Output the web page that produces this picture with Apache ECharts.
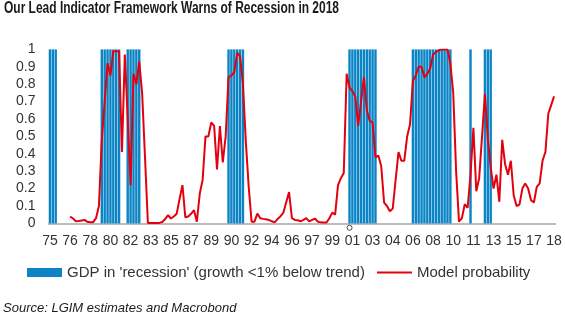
<!DOCTYPE html>
<html>
<head>
<meta charset="utf-8">
<script src="https://cdn.jsdelivr.net/npm/echarts@6/dist/echarts.min.js"></script>
<style>
  html, body { margin: 0; padding: 0; background: #fff; }
  #chart { width: 565px; height: 321px; }
</style>
</head>
<body>
<div id="chart"></div>
<script>
// Quarterly axis, 1975Q1 .. 2018Q4
const firstYear = 1975;
const lastYear = 2018;
const labelEvery = 7; // a year label every 7 quarters

// Quarters in which GDP growth ran more than 1% below trend
const recessionPeriods = [
  ['1975Q1', '1975Q3'],
  ['1979Q3', '1981Q1'],
  ['1981Q4', '1982Q4'],
  ['1990Q3', '1991Q4'],
  ['2001Q1', '2003Q2'],
  ['2006Q3', '2009Q4'],
  ['2011Q3', '2011Q3'],
  ['2012Q4', '2013Q2']
];

// Model probability of recession, quarterly from 1976Q4
const probabilityStart = '1976Q4';
const probability = [
  0.04, 0.028, 0.013, 0.014, 0.017, 0.02, 0.009, 0.006, 0.007, 0.03,
  0.1, 0.48, 0.7, 0.92, 0.85, 0.99, 0.99, 0.99, 0.41, 0.97,
  0.6, 0.22, 0.86, 0.8, 0.93, 0.75, 0.38, 0.003, 0.002, 0.002,
  0.002, 0.003, 0.008, 0.025, 0.047, 0.028, 0.04, 0.056, 0.14, 0.22,
  0.035, 0.04, 0.055, 0.076, 0.01, 0.17, 0.25, 0.5, 0.5, 0.58,
  0.56, 0.31, 0.56, 0.35, 0.5, 0.84, 0.85, 0.87, 0.98, 0.96,
  0.8, 0.47, 0.21, 0.01, 0.01, 0.056, 0.03, 0.026, 0.024, 0.02,
  0.012, 0.006, 0.025, 0.04, 0.06, 0.12, 0.18, 0.03, 0.02, 0.018,
  0.012, 0.02, 0.03, 0.012, 0.02, 0.028, 0.01, 0.006, 0.005, 0.005,
  0.03, 0.062, 0.05, 0.22, 0.26, 0.29, 0.86, 0.78, 0.76, 0.73,
  0.56, 0.7, 0.84, 0.65, 0.59, 0.58, 0.38, 0.39, 0.33, 0.12,
  0.1, 0.07, 0.085, 0.25, 0.41, 0.36, 0.36, 0.5, 0.57, 0.82,
  0.85, 0.9, 0.9, 0.84, 0.86, 0.89, 0.97, 0.985, 0.995, 1.0,
  1.0, 1.0, 0.92, 0.75, 0.3, 0.01, 0.03, 0.11, 0.09, 0.28,
  0.55, 0.185, 0.26, 0.5, 0.745, 0.49, 0.325, 0.2, 0.28, 0.124,
  0.48, 0.34, 0.28, 0.36, 0.16, 0.1, 0.108, 0.2, 0.23, 0.2,
  0.133, 0.12, 0.21, 0.23, 0.36, 0.41, 0.63, 0.68, 0.73
];

// Small circle drawn just under the axis at 2001Q1
const axisMarker = ['2001Q1', -0.025];

const titleText = 'Our Lead Indicator Framework Warns of Recession in 2018';
const sourceText = 'Source: LGIM estimates and Macrobond';
const barName = "GDP in 'recession' (growth <1% below trend)";
const lineName = 'Model probability';

const quarters = [];
for (let y = firstYear; y <= lastYear; y++) {
  for (let q = 1; q <= 4; q++) quarters.push(y + 'Q' + q);
}

const recessionBars = quarters.map(() => null);
recessionPeriods.forEach(([from, to]) => {
  for (let i = quarters.indexOf(from); i <= quarters.indexOf(to); i++) recessionBars[i] = 1;
});

const probabilitySeries = quarters.map(() => null);
const p0 = quarters.indexOf(probabilityStart);
probability.forEach((v, k) => { probabilitySeries[p0 + k] = v; });

const baseFont = "'Liberation Sans', Arial, sans-serif";
const titleFont = "bold 16px 'Liberation Sans', Arial, sans-serif";

// The heading is set in a condensed face: squeeze a regular bold face to the same width
const measureCtx = document.createElement('canvas').getContext('2d');
measureCtx.font = titleFont;
const titleWidth = 335;
const titleScale = titleWidth / measureCtx.measureText(titleText).width;

const redColor = '#e3000f';
const blueColor = '#0a84c4';

const chart = echarts.init(document.getElementById('chart'), null, { renderer: 'canvas' });
chart.setOption({
  animation: false,
  backgroundColor: '#ffffff',
  graphic: [
    {
      type: 'text',
      x: 4, y: 1,
      scaleX: titleScale,
      style: {
        text: titleText,
        font: titleFont,
        fill: '#1a1a1a',
        textBaseline: 'top'
      }
    }
  ],
  title: {
    text: sourceText,
    left: 3, top: 302, padding: 0,
    textStyle: {
      fontFamily: baseFont, fontSize: 13, fontStyle: 'italic',
      fontWeight: 'normal', color: '#1a1a1a'
    }
  },
  legend: {
    left: 27, top: 265, padding: 0,
    itemWidth: 35, itemHeight: 9, itemGap: 12,
    data: [
      { name: barName, icon: 'rect' },
      { name: lineName, icon: 'path://M0,0H35V2H0Z', itemStyle: { color: redColor } }
    ],
    textStyle: { fontFamily: baseFont, fontSize: 15, color: '#333' }
  },
  grid: { left: 48.5, top: 49.4, width: 507, height: 174, containLabel: false },
  xAxis: {
    type: 'category',
    data: quarters,
    boundaryGap: true,
    axisLine: { lineStyle: { color: '#a6a6a6', width: 1.5 } },
    axisTick: { show: false },
    axisLabel: {
      interval: labelEvery - 1,
      margin: 11,
      formatter: v => v.slice(2, 4),
      fontFamily: baseFont, fontSize: 14, color: '#333'
    },
    splitLine: { show: false }
  },
  yAxis: {
    type: 'value',
    min: 0, max: 1, interval: 0.1,
    axisLine: { show: false },
    axisTick: { show: false },
    splitLine: { show: false },
    axisLabel: {
      margin: 13,
      formatter: v => String(+v.toFixed(1)),
      fontFamily: baseFont, fontSize: 14, color: '#333'
    }
  },
  series: [
    {
      name: barName,
      type: 'bar',
      data: recessionBars,
      barCategoryGap: '16%',
      itemStyle: { color: blueColor },
      z: 1
    },
    {
      name: lineName,
      type: 'line',
      data: probabilitySeries,
      symbol: 'none',
      connectNulls: false,
      lineStyle: { color: redColor, width: 2 },
      itemStyle: { color: redColor },
      z: 3
    },
    {
      name: 'marker',
      type: 'scatter',
      data: [[quarters.indexOf(axisMarker[0]), axisMarker[1]]],
      symbol: 'circle',
      symbolSize: 5,
      clip: false,
      silent: true,
      itemStyle: { color: '#ffffff', borderColor: '#222', borderWidth: 1 },
      z: 5
    }
  ]
});
</script>
</body>
</html>
